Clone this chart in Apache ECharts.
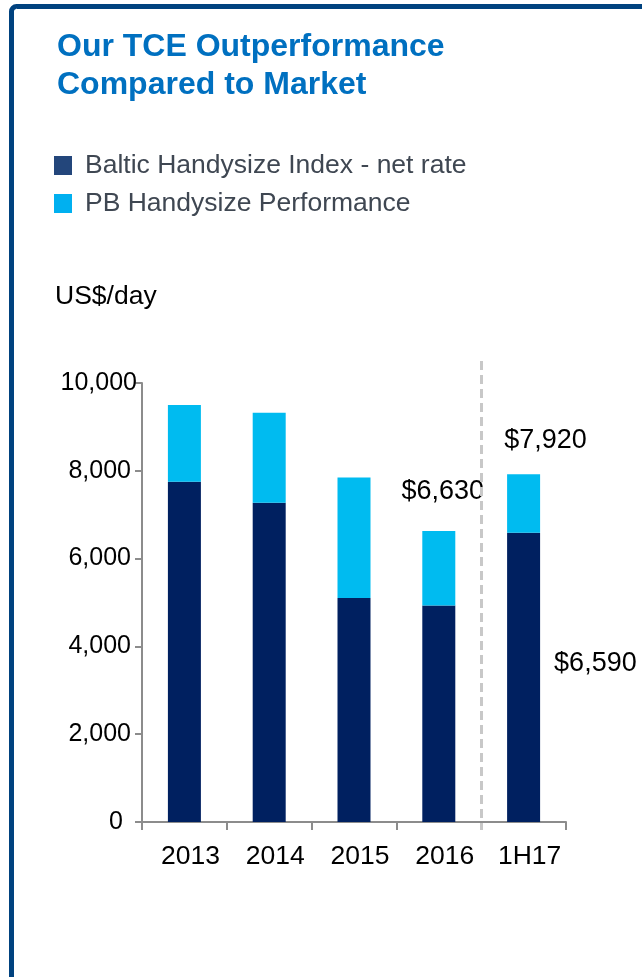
<!DOCTYPE html>
<html>
<head>
<meta charset="utf-8">
<script src="https://cdn.jsdelivr.net/npm/echarts@6/dist/echarts.min.js"></script>
<style>
  html, body { margin: 0; padding: 0; background: #fff; }
  #chart { width: 642px; height: 977px; }
</style>
</head>
<body>
<div id="chart"></div>
<script>
// values (US$/day)
var categories = ['2013', '2014', '2015', '2016', '1H17'];
var balticIndex = [7750, 7270, 5100, 4930, 6590];
var pbTotal = [9500, 9320, 7850, 6630, 7920];
var yTicks = [0, 2000, 4000, 6000, 8000, 10000];

// the light part is what PB earned on top of the index
var outperf = pbTotal.map(function (v, i) { return v - balticIndex[i]; });

var FONT = 'Liberation Sans, Arial, sans-serif';

function money(v) {
  return '$' + v.toLocaleString('en-US');
}

var darkData = balticIndex.map(function (v, i) {
  if (i === 4) {
    return {
      value: v,
      label: { show: true, position: 'right', distance: 14, offset: [0, -14],
        formatter: function () { return money(balticIndex[4]); } }
    };
  }
  return v;
});

var lightData = outperf.map(function (v, i) {
  if (i === 3) {
    return {
      value: v,
      label: { show: true, position: 'top', offset: [4, -19],
        formatter: function () { return money(pbTotal[3]); } }
    };
  }
  if (i === 4) {
    return {
      value: v,
      label: { show: true, position: 'top', offset: [22, -14],
        formatter: function () { return money(pbTotal[4]); } }
    };
  }
  return v;
});

var myChart = echarts.init(document.getElementById('chart'));

var option = {
  animation: false,
  backgroundColor: '#fff',
  title: {
    text: 'Our TCE Outperformance\nCompared to Market',
    left: 57,
    top: 28,
    padding: 0,
    textStyle: { fontFamily: FONT, fontSize: 32, fontWeight: 'bold', color: '#0070c0', lineHeight: 38 }
  },
  legend: {
    orient: 'vertical',
    left: 54,
    top: 152,
    padding: 0,
    itemWidth: 18,
    itemHeight: 19,
    itemGap: 11,
    textStyle: { fontFamily: FONT, fontSize: 26.5, color: '#3f4752', lineHeight: 26, padding: [0, 0, 0, 8] },
    data: [
      { name: 'Baltic Handysize Index - net rate', icon: 'rect', itemStyle: { color: '#23467b' } },
      { name: 'PB Handysize Performance', icon: 'rect', itemStyle: { color: '#00b0f0' } }
    ]
  },
  grid: { left: 142, right: 76, top: 383, bottom: 155 },
  xAxis: {
    type: 'category',
    data: categories,
    axisLine: { lineStyle: { color: '#8c8c8c', width: 2 } },
    axisTick: { show: true, length: 8, lineStyle: { color: '#8c8c8c', width: 2 } },
    axisLabel: { fontFamily: FONT, fontSize: 26.5, color: '#000', margin: 21, padding: [0, 0, 0, 12] }
  },
  yAxis: {
    type: 'value',
    min: 0,
    max: 10000,
    interval: 2000,
    splitLine: { show: false },
    axisLine: { show: true, lineStyle: { color: '#8c8c8c', width: 2 } },
    axisTick: { show: true, length: 7, lineStyle: { color: '#8c8c8c', width: 2 } },
    axisLabel: {
      fontFamily: FONT, fontSize: 25, color: '#000', margin: 5,
      formatter: function (v) {
        if (yTicks.indexOf(v) < 0) return '';
        var s = v.toLocaleString('en-US');
        if (v === 0) return '{z|' + s + '}';
        if (v === 10000) return '{t|' + s + '}';
        return '{n|' + s + '}';
      },
      rich: {
        z: { fontFamily: FONT, fontSize: 25, color: '#000', padding: [0, 14, 0, 0] },
        n: { fontFamily: FONT, fontSize: 25, color: '#000', padding: [0, 6, 0, 0] },
        t: { fontFamily: FONT, fontSize: 25, color: '#000' }
      }
    }
  },
  series: [
    {
      name: 'Baltic Handysize Index - net rate',
      type: 'bar',
      stack: 'tce',
      barWidth: 33,
      itemStyle: { color: '#002060' },
      label: { fontFamily: FONT, fontSize: 27, color: '#000', lineHeight: 30 },
      data: darkData
    },
    {
      name: 'PB Handysize Performance',
      type: 'bar',
      stack: 'tce',
      barWidth: 33,
      itemStyle: { color: '#00bbf0' },
      label: { fontFamily: FONT, fontSize: 27, color: '#000', lineHeight: 30 },
      data: lightData
    }
  ]
};

myChart.setOption(option);

// frame round the panel and the dashed divider before 1H17
var x3 = myChart.convertToPixel({ xAxisIndex: 0 }, categories[3]);
var x4 = myChart.convertToPixel({ xAxisIndex: 0 }, categories[4]);
var xDiv = Math.round((x3 + x4) / 2) + 0.5;
var yTop = myChart.convertToPixel({ yAxisIndex: 0 }, 10500);
var yBottom = myChart.convertToPixel({ yAxisIndex: 0 }, 0) + 8;

myChart.setOption({
  graphic: [
    {
      type: 'rect',
      shape: { x: 11.5, y: 6.5, width: 720, height: 1100, r: 5 },
      style: { fill: 'none', stroke: '#00427f', lineWidth: 5 },
      silent: true
    },
    {
      type: 'line',
      shape: { x1: xDiv, y1: yTop, x2: xDiv, y2: yBottom },
      style: { stroke: '#c8c8c8', lineWidth: 3, lineDash: [9, 5] },
      silent: true,
      z: 10
    },
    {
      type: 'text',
      left: 55,
      top: 283,
      style: { text: 'US$/day', font: '26.5px Liberation Sans, Arial, sans-serif', fill: '#000' },
      silent: true
    }
  ]
});
</script>
</body>
</html>
